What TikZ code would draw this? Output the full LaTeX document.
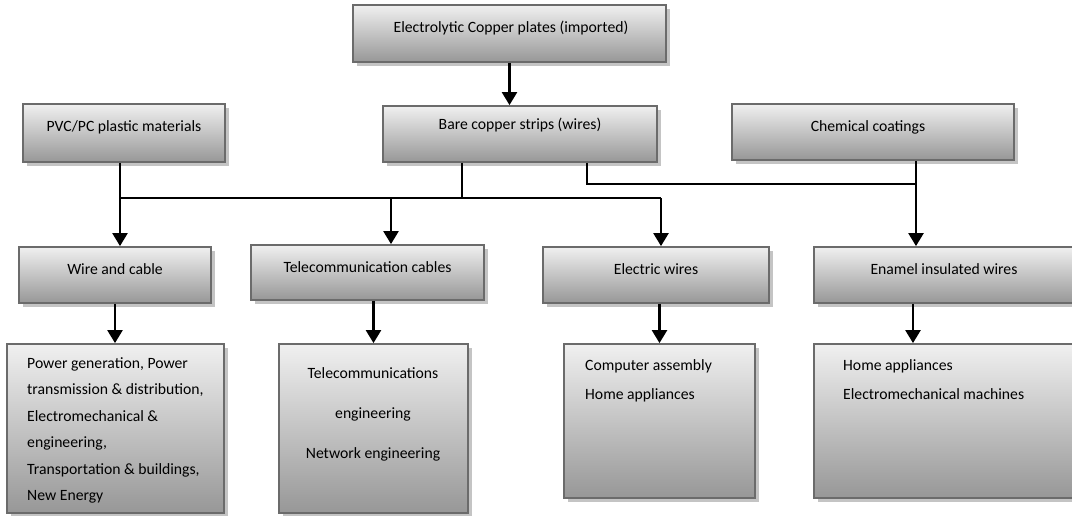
\documentclass[tikz,border=0pt]{standalone}
\usepackage{fontspec}
\setmainfont{Carlito}
\usetikzlibrary{arrows.meta,shadows,calc}
\definecolor{boxtop}{HTML}{F0F0F0}
\definecolor{boxbot}{HTML}{979797}
\definecolor{boxborder}{HTML}{6B6B6B}
\definecolor{boxshadow}{HTML}{C4C4C4}
\begin{document}
\begin{tikzpicture}[x=1pt,y=-1pt,
  box/.style={draw=boxborder, line width=1.8pt, top color=boxtop, bottom color=boxbot,
    general shadow={fill=boxshadow, shadow xshift=4pt, shadow yshift=-4pt},
    inner sep=0pt, minimum width=#1},
  lab/.style={font=\fontsize{15.7}{18}\selectfont, inner sep=0pt},
  conn/.style={line width=2.4pt, draw=black},
  arr/.style={conn, -{Triangle[width=15pt,length=13pt]}}]
\useasboundingbox (0,0) rectangle (1072,515);
% boxes
\node[box=313pt, minimum height=57pt] (top)  at (509.5,33.5) {};
\node[box=202pt, minimum height=58pt] (pvc)  at (124,133) {};
\node[box=274pt, minimum height=56pt] (bare) at (520,134) {};
\node[box=282pt, minimum height=56pt] (chem) at (873,132) {};
\node[box=192pt, minimum height=56pt] (wac)  at (115,275) {};
\node[box=233pt, minimum height=55pt] (tel)  at (367.5,272.5) {};
\node[box=226pt, minimum height=56pt] (ele)  at (656,275) {};
\node[box=262pt, minimum height=56pt] (ena)  at (945,275) {};
\node[box=217pt, minimum height=169pt] (wac3) at (115.5,428.5) {};
\node[box=189pt, minimum height=169pt] (tel3) at (373.5,428.5) {};
\node[box=191pt, minimum height=154pt] (ele3) at (659.5,421) {};
\node[box=262pt, minimum height=154pt] (ena3) at (945,421) {};
% labels
\node[lab] (topt)  at (511,28)  {Electrolytic Copper plates (imported)};
\node[lab] (pvct)  at (124,127) {PVC/PC plastic materials};
\node[lab] (baret) at (520,125) {Bare copper strips (wires)};
\node[lab] (chemt) at (868,127) {Chemical coatings};
\node[lab] (wact)  at (115,269) {Wire and cable};
\node[lab] (telt)  at (367.5,267) {Telecommunication cables};
\node[lab] (elet)  at (656,269) {Electric wires};
\node[lab] (enat)  at (944,269) {Enamel insulated wires};
\node[lab, font=\fontsize{15.7}{26.5}\selectfont, align=left, anchor=north west] (wac3t) at (27,357)
  {Power generation, Power\\transmission \& distribution,\\Electromechanical \&\\engineering,\\Transportation \& buildings,\\New Energy};
\node[lab, font=\fontsize{15.7}{40}\selectfont, align=center, anchor=north] (tel3t) at (373,367)
  {Telecommunications\\engineering\\Network engineering};
\node[lab, font=\fontsize{15.7}{29}\selectfont, align=left, anchor=north west] (ele3t) at (585,359)
  {Computer assembly\\Home appliances};
\node[lab, font=\fontsize{15.7}{29}\selectfont, align=left, anchor=north west] (ena3t) at (843,359)
  {Home appliances\\Electromechanical machines};
% connector coordinates
\coordinate (bus)   at (0,198);
\coordinate (bus2)  at (0,184);
\coordinate (pvcx)  at (120,0);
\coordinate (barex) at (462,0);
\coordinate (bare2x) at (587,0);
\coordinate (telx)  at (391,0);
\coordinate (elex)  at (661,0);
\coordinate (chemx) at (916,0);
\coordinate (enax)  at (913,0);
% connectors
\draw[arr] (top.south) -- (top.south |- bare.north);
\draw[arr] (pvcx |- pvc.south) -- (pvcx |- wac.north);
\draw[conn] (pvcx |- bus) -- (elex |- bus);
\draw[conn] (barex |- bare.south) -- (barex |- bus);
\draw[arr] (telx |- bus) -- (telx |- tel.north);
\draw[arr] (elex |- bus) -- (elex |- ele.north);
\draw[conn] (bare2x |- bare.south) |- (chemx |- bus2);
\draw[arr] (chemx |- chem.south) -- (chemx |- ena.north);
\draw[arr] (wac.south) -- (wac.south |- wac3.north);
\draw[arr] (tel3.north |- tel.south) -- (tel3.north);
\draw[arr] (ele3.north |- ele.south) -- (ele3.north);
\draw[arr] (enax |- ena.south) -- (enax |- ena3.north);
\end{tikzpicture}
\end{document}
